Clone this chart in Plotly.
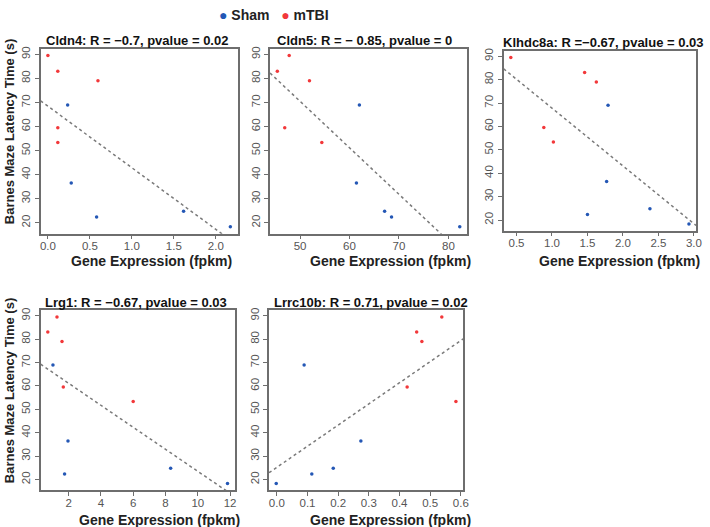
import numpy as np
import plotly.graph_objects as go

# ---- data ----
latency_sham = [69.0, 36.5, 22.4, 24.8, 18.3]
latency_mtbi = [89.5, 83.0, 79.0, 59.5, 53.4]

cldn4_sham = [0.235, 0.278, 0.58, 1.616, 2.173]
cldn4_mtbi = [0.0, 0.118, 0.596, 0.118, 0.118]
cldn5_sham = [62.0, 61.4, 68.5, 67.1, 82.3]
cldn5_mtbi = [47.8, 45.4, 51.9, 46.9, 54.4]
klhdc8a_sham = [1.79, 1.77, 1.50, 2.38, 2.93]
klhdc8a_mtbi = [0.42, 1.46, 1.625, 0.885, 1.02]
lrg1_sham = [1.03, 1.96, 1.75, 8.32, 11.84]
lrg1_mtbi = [1.28, 0.71, 1.59, 1.67, 6.0]
lrrc10b_sham = [0.089, 0.274, 0.114, 0.184, -0.002]
lrrc10b_mtbi = [0.538, 0.456, 0.473, 0.425, 0.584]

titles = [
    "Cldn4: R = \u22120.7, pvalue = 0.02",
    "Cldn5: R = \u2212 0.85, pvalue = 0",
    "Klhdc8a: R =\u22120.67, pvalue = 0.03",
    "Lrg1: R = \u22120.67, pvalue = 0.03",
    "Lrrc10b: R = 0.71, pvalue = 0.02",
]
xticks_cldn4 = [0.0, 0.5, 1.0, 1.5, 2.0]
xticks_cldn5 = [50, 60, 70, 80]
xticks_klhdc8a = [0.5, 1.0, 1.5, 2.0, 2.5, 3.0]
xticks_lrg1 = [2, 4, 6, 8, 10, 12]
xticks_lrrc10b = [0.0, 0.1, 0.2, 0.3, 0.4, 0.5, 0.6]
yticks = [20, 30, 40, 50, 60, 70, 80, 90]

xlabel = "Gene Expression (fpkm)"
ylabel = "Barnes Maze Latency Time (s)"

# ---- layout (pixels) ----
W, H = 710, 527
panels = [
    dict(sham=cldn4_sham, mtbi=cldn4_mtbi, ticks=xticks_cldn4, fmt=".1f",
         box=(40, 239, 46, 232), tpos=(137.5, 38), xl=(152, 259), yl=True),
    dict(sham=cldn5_sham, mtbi=cldn5_mtbi, ticks=xticks_cldn5, fmt="d",
         box=(271.7, 470.7, 46, 232), tpos=(367, 38), xl=(393, 259), yl=False),
    dict(sham=klhdc8a_sham, mtbi=klhdc8a_mtbi, ticks=xticks_klhdc8a, fmt=".1f",
         box=(507.7, 702, 48, 229), tpos=(608, 40), xl=(625, 259), yl=False),
    dict(sham=lrg1_sham, mtbi=lrg1_mtbi, ticks=xticks_lrg1, fmt="d",
         box=(40, 236, 309, 490), tpos=(136.7, 301.5), xl=(160, 519.5), yl=True),
    dict(sham=lrrc10b_sham, mtbi=lrrc10b_mtbi, ticks=xticks_lrrc10b, fmt=".1f",
         box=(270.7, 466.7, 309, 490), tpos=(373.7, 301.5), xl=(393, 519.5), yl=False),
]

SHAM = "#2457b5"
MTBI = "#f2383a"
FRAME = "#6e6e6e"
FONT = "Liberation Sans"

fig = go.Figure()
annotations = []

y_all = latency_sham + latency_mtbi
ylo, yhi = min(y_all), max(y_all)
ypad = 0.04 * (yhi - ylo)
yrange = [ylo - ypad, yhi + ypad]

for i, p in enumerate(panels):
    k = "" if i == 0 else str(i + 1)
    xa, ya = "x" + k, "y" + k
    x_all = p["sham"] + p["mtbi"]
    xlo, xhi = min(x_all), max(x_all)
    xpad = 0.04 * (xhi - xlo)
    xrange = [xlo - xpad, xhi + xpad]

    slope, icpt = np.polyfit(np.array(x_all), np.array(y_all), 1)
    lx = np.array(xrange)
    fig.add_trace(go.Scatter(x=lx, y=icpt + slope * lx, mode="lines",
                             line=dict(color="#7a7a7a", width=1.5, dash="dot"),
                             xaxis=xa, yaxis=ya, showlegend=False, hoverinfo="skip"))
    fig.add_trace(go.Scatter(x=p["sham"], y=latency_sham, mode="markers",
                             marker=dict(color=SHAM, size=3.5), name="Sham",
                             xaxis=xa, yaxis=ya, showlegend=False))
    fig.add_trace(go.Scatter(x=p["mtbi"], y=latency_mtbi, mode="markers",
                             marker=dict(color=MTBI, size=3.5), name="mTBI",
                             xaxis=xa, yaxis=ya, showlegend=False))

    x0, x1, y0, y1 = p["box"]
    common = dict(showline=True, linecolor=FRAME, linewidth=1.6, mirror=True,
                  ticks="outside", ticklen=4, tickcolor=FRAME, tickwidth=1,
                  showgrid=False, zeroline=False,
                  tickfont=dict(family=FONT, size=11.5, color="#555555"))
    fig.update_layout(**{
        "xaxis" + k: dict(domain=[x0 / W, x1 / W], range=xrange, anchor=ya,
                          tickvals=p["ticks"], tickformat=p["fmt"],
                          ticklabelstandoff=-3, **common),
        "yaxis" + k: dict(domain=[1 - y1 / H, 1 - y0 / H], range=yrange, anchor=xa,
                          tickvals=yticks, tickangle=-90, **common),
    })

    annotations.append(dict(text=titles[i], x=p["tpos"][0] / W, y=1 - p["tpos"][1] / H,
                            xref="paper", yref="paper", showarrow=False,
                            xanchor="center", yanchor="middle",
                            font=dict(family=FONT, size=13, color="#111111", weight="bold")))
    annotations.append(dict(text=xlabel, x=p["xl"][0] / W, y=1 - p["xl"][1] / H,
                            xref="paper", yref="paper", showarrow=False,
                            xanchor="center", yanchor="middle",
                            font=dict(family=FONT, size=14, color="#222222", weight="bold")))
    if p["yl"]:
        cy = (y0 + y1) / 2 - 10
        annotations.append(dict(text=ylabel, x=8 / W, y=1 - cy / H,
                                xref="paper", yref="paper", showarrow=False, textangle=-90,
                                xanchor="center", yanchor="middle",
                                font=dict(family=FONT, size=13, color="#222222", weight="bold")))

annotations.append(dict(
    text=(f"<span style='color:{SHAM}'>\u25CF</span> Sham"
          f"&nbsp;&nbsp;&nbsp;<span style='color:{MTBI}'>\u25CF</span> mTBI"),
    x=276 / W, y=1 - 12 / H, xref="paper", yref="paper", showarrow=False,
    xanchor="center", yanchor="middle",
    font=dict(family=FONT, size=14, color="#222222", weight="bold")))

fig.update_layout(width=W, height=H, margin=dict(l=0, r=0, t=0, b=0),
                  paper_bgcolor="white", plot_bgcolor="white",
                  showlegend=False, annotations=annotations)

fig.write_html("out.html", config={"displayModeBar": False},
               post_script="document.body.style.margin='0';document.body.style.overflow='hidden';")
